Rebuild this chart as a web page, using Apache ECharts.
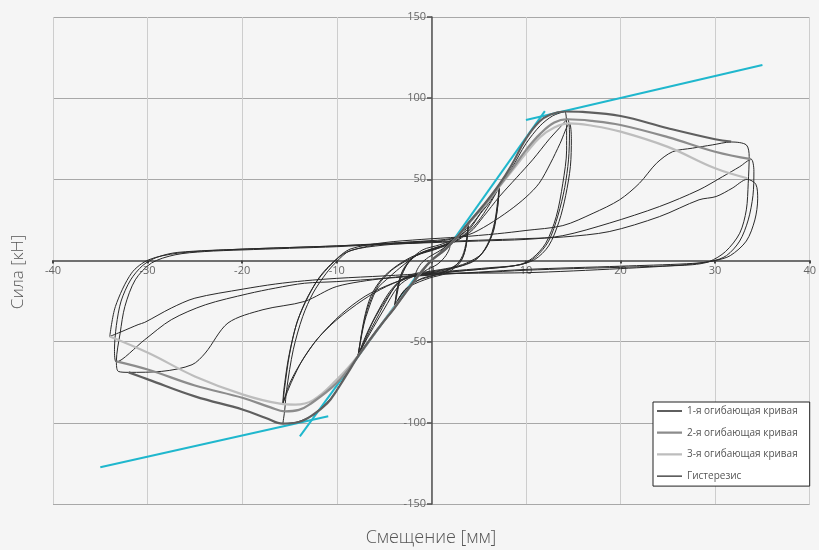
<!DOCTYPE html>
<html>
<head>
<meta charset="utf-8">
<script src="https://cdn.jsdelivr.net/npm/echarts@6/dist/echarts.min.js"></script>
<style>
  html, body { margin: 0; padding: 0; background: #f5f5f5; }
  #chart { width: 819px; height: 550px; }
</style>
</head>
<body>
<div id="chart"></div>
<script>
// Axis ranges (mm / kN)
const xRange = { min: -40, max: 40, step: 10 };
const yRange = { min: -150, max: 150, step: 50 };

const seriesNames = ['1-я огибающая кривая', '2-я огибающая кривая', '3-я огибающая кривая', 'Гистерезис'];

// Envelope curves through the cycle peaks, [displacement mm, force kN]
const envelope1 = [[-32,-68.9],[-29.9,-73.4],[-25,-83.7],[-19.9,-91.9],[-17.5,-97],[-15.7,-100.5],[-14,-99.5],[-12.5,-95],[-11,-88],[-10,-80],[-8.8,-69],[-7.75,-59],[-5.5,-41],[-3.9,-29.3],[-2.5,-18],[-1.2,-8],[0,0],[1.5,7],[2.8,15],[3.9,23],[5.5,34],[7.2,47],[8.5,59],[10,75],[11.4,85.5],[12.6,90],[14.1,91.8],[16,91.5],[20,89],[25,81.5],[30,74.7],[31.7,73.2]];
const envelope2 = [[-33.3,-62.1],[-29.9,-67.3],[-25,-77],[-19.9,-84.7],[-17,-90.5],[-15.5,-92.9],[-14,-92],[-12.9,-88.8],[-10,-75.4],[-7.75,-59],[-5.5,-41],[-3.9,-29],[-2.5,-18],[-1.2,-8],[0,0],[1.5,7],[2.8,15],[3.9,22.8],[5.5,33.5],[7.2,46],[8.5,56],[10,68],[11.5,78],[13,85],[14.4,87],[17,86],[20,83.5],[25,76],[30,67],[33.8,62.4]];
const envelope3 = [[-34,-46.8],[-29.9,-57],[-25,-71.4],[-19.9,-82.6],[-16,-88.2],[-14.4,-88.8],[-12.5,-86],[-10,-73.4],[-7.75,-58.8],[-5.5,-41],[-3.9,-28.8],[-2.5,-18],[-1.2,-8],[0,0],[1.5,7],[2.8,15],[3.9,22.5],[5.5,33],[7.2,45.5],[8.5,55],[10,66],[11.5,76],[13,82],[14.6,84.5],[17,83],[20,79.4],[25,70],[30,56.8],[33.4,50.7]];

// Hysteresis path, grouped by displacement amplitude
const loops2mm = [[0,0],[0.6,3.5],[1.2,7],[2.0,11],[1.9,7],[1.4,2],[0.6,-2.5],[-0.4,-5.5],[-1.2,-8.5],[-1.8,-12.5],[-1.6,-7],[-1.1,-2],[-0.3,2],[0.6,5],[1.4,8],[2.1,11.5]];
const loops4mm = [[2.8,15],[3.4,19],[3.9,23],
  [3.8,15],[3.6,7],[3.0,-1.5],[1.6,-7.8],[-0.2,-10.8],[-2.3,-16],[-3.3,-22],[-3.9,-29.3],
  [-3.6,-20],[-3.3,-12],[-2.8,-5],[-2.2,0.5],[-0.9,6.6],[0.9,9.7],[2.6,13.8],[3.3,18],[3.9,22.5],
  [3.7,12],[3.3,3],[2.5,-3.5],[1.0,-8],[-1,-11],[-2.6,-17],[-3.4,-23],[-3.9,-29],
  [-3.6,-18],[-3.2,-9],[-2.5,-2],[-1.5,3.5],[0,7],[1.5,10],[2.8,15],[3.9,22.8],
  [3.7,10],[3.2,0.5],[2,-5],[0.4,-9],[-1.5,-12.5],[-2.8,-18],[-3.5,-24],[-3.9,-28.8],
  [-3.6,-17],[-3.1,-7],[-2.3,0],[-1,5],[0.5,8],[2,11],[3.2,16],[4.2,24]];
const loops7mm = [[5.4,32],[6.4,39],[7.2,46.5],
  [7.1,38],[6.9,28],[6.5,16.8],[5.4,4.5],[3.7,-1.6],[2,-4.5],[0,-6.5],[-2,-8.5],[-3.4,-13],[-4.5,-22],[-5.8,-36],[-6.8,-47],[-7.75,-59],
  [-7.3,-44],[-6.9,-34.5],[-5.8,-18],[-4.4,-10],[-3,-3],[-1.6,3],[0.5,7],[2.3,12],[3.8,19],[5.2,29],[6.3,37],[7.2,46],
  [7.0,36],[6.7,24],[6.1,12],[5,2],[3.3,-3],[1,-6],[-1.5,-8.5],[-3.2,-12],[-4.5,-20],[-5.8,-33],[-6.9,-46],[-7.75,-58.5],
  [-7.2,-40],[-6.6,-27],[-5.6,-15],[-4.2,-6],[-2.6,0],[-0.8,5],[1.5,9],[3.2,14],[4.8,23],[6.2,35],[7.2,45.5],
  [7.0,33],[6.6,20],[5.9,9],[4.6,0],[2.8,-4],[0.5,-7],[-2,-9.5],[-3.5,-14],[-4.8,-24],[-6.2,-38],[-7.75,-58.8],
  [-7.1,-36],[-6.4,-22],[-5.2,-11],[-3.6,-3],[-1.8,3],[0.5,7.5],[2.5,12],[4,19],[5.5,32],[7,45]];
const loops14mm = [[8.5,57],[10,72],[11.5,83],[12.8,89],[14.1,91.7],
  [14.3,80],[14.3,68],[13.9,47.6],[13.2,27],[12.1,10.7],[10.7,1.5],[9.3,-2.6],[6,-5],[3,-6.5],[0,-8],[-2,-10],[-3.5,-16],[-5,-30],[-6.5,-45],[-7.75,-58],[-9,-70],[-10.5,-84],[-12.5,-95],[-14.2,-99.5],[-15.7,-100.5],
  [-15.5,-92],[-15.3,-79.6],[-14.6,-55],[-13.6,-34.5],[-12.5,-20],[-11.1,-7.8],[-10,-0.6],[-8.6,6],[-5,9.5],[-1,11],[2,13],
  [4,17],[5.5,27],[7.2,39.4],[9,51],[10.7,62],[12.5,75],[13.6,82],[14.4,87],
  [14.6,78],[14.5,62],[14.1,45],[13.4,28],[12.4,12],[11,2],[9.5,-2.5],[6,-4.5],[3,-6],[0,-7.5],[-1.6,-8.8],[-4.75,-16],[-7.2,-24.2],[-10,-36.5],[-12,-48],[-13.6,-61],[-14.8,-75],[-15.7,-88],
  [-15.6,-80],[-15.1,-60],[-14.3,-40],[-13.3,-25],[-12,-12],[-10.5,-2],[-9,5],[-6,9.5],[-2,11.5],[1.5,13],
  [4,16],[6,22],[8.3,31],[10,39],[11.4,47.6],[12.6,60],[13.6,72],[14.6,84.5],
  [14.8,75],[14.7,58],[14.2,40],[13.5,24],[12.4,9],[10.9,0.5],[9,-3],[6,-5],[3,-6.5],[0,-8.5],[-2,-10],[-4.5,-15],[-7,-22],[-9.5,-33],[-12,-48],[-13.8,-63],[-15,-76],[-15.7,-88.5],
  [-15.5,-78],[-15,-58],[-14.2,-38],[-13,-22],[-11.8,-10],[-10.3,-0.5],[-8.6,7],[-5,11],[-1,13],[3,14.5],[7,16.5],[10,18.5]];
const loops33mm = [[13.9,21.5],[17.1,29.1],[19.9,37.4],[22,47.6],[23.8,59.9],[25.5,67],[27.6,69.2],[29.7,71.2],[31.7,73],[33.3,71.2],
  [33.6,64],[33.5,47.6],[33.3,31.2],[32.6,16.8],[31.1,5.5],[29.4,-0.6],[27.6,-2.6],[24,-3.5],[20,-4.2],[15,-5],[10,-6],[5,-7.5],[0,-8.5],[-5,-11],[-10,-16],[-13.4,-25.2],[-17.8,-30.3],[-21.5,-38.5],[-23.9,-57],[-25.3,-64.2],[-28.5,-68.3],[-32,-68.9],[-33.1,-68.3],
  [-33.3,-62],[-32.9,-44.7],[-32.4,-28.3],[-31.3,-11.9],[-29.6,-1.6],[-27.1,3.5],[-24,5.5],[-20,6.5],[-15,7.5],[-10,8.5],[-5,10],[0,11],[5,12],[10,13],[13.9,15.3],
  [18.8,23],[24.1,33.2],[28.3,43.5],[30.8,51.7],[32.6,57.8],[33.8,62.4],
  [34.1,55],[34,40],[33.5,25],[32.6,12],[31.2,3],[29.6,-0.5],[27,-2],[20,-3.5],[10,-5.5],[0,-9],[-5,-11],[-10,-13],[-13.4,-14],[-16.5,-17],[-19.4,-20.5],[-23.9,-27.3],[-27.5,-36.5],[-30.3,-48.8],[-33.3,-62.5],
  [-33.5,-55],[-33.3,-40],[-32.8,-25],[-31.8,-12],[-30.5,-3],[-29,2],[-26.8,5],[-20,7],[-10,9],[0,11.5],[5,12.5],[10,13.5],[14,14.5],
  [18.8,17.8],[24.1,27],[28.3,37.4],[30.1,39.4],[31.8,44.5],[33.4,50],
  [34.3,47],[34.5,38],[34.2,25],[33.3,12],[31.6,3],[30,0],[27,-2.5],[20,-5],[10,-7.5],[0,-8],[-5,-9.5],[-10,-11],[-13.4,-12.5],[-16.5,-14.5],[-19.9,-17.6],[-25,-23.2],[-27.5,-29.3],[-30.3,-38.1],[-31,-39.5],[-32.7,-43.7],[-34,-46.8],
  [-33.4,-28.3],[-31.7,-7.8],[-29.9,0.4],[-26.8,4.5],[-22,6.5],[-15,8],[-10,9],[-5,10.5],[0,12]];

// Bilinear idealisation lines: initial stiffness and post-yield branch
const stiffnessPos = [[2.1,10.7],[12,92]];
const stiffnessNeg = [[-13.9,-108.3],[-1.5,-9]];
const hardeningPos = [[10,86.6],[35,120.4]];
const hardeningNeg = [[-35,-127.4],[-10.9,-96]];

const hysteresis = loops2mm.concat(loops4mm, loops7mm, loops14mm, loops33mm);

const FONT = "'Open Sans', 'Noto Sans', sans-serif";
const CYAN = '#1fb7cd';

// Plot box in pixels; the axes cross at (0, 0) inside it
const PLOT = { left: 53, right: 8, top: 17, bottom: 46, width: 819 - 53 - 8, height: 550 - 17 - 46 };
const xAxisShift = PLOT.height * (0 - yRange.min) / (yRange.max - yRange.min);
const yAxisShift = PLOT.width * (0 - xRange.min) / (xRange.max - xRange.min);

// Legend glyph: a horizontal bar of given thickness inside a 25x10 box
function barIcon(t) {
  const a = (5 - t / 2).toFixed(2), b = (5 + t / 2).toFixed(2);
  return 'path://M0,0L0.01,0L0.01,0.01Z M0,' + a + 'L25,' + a + 'L25,' + b + 'L0,' + b + 'Z M24.99,10L25,10L25,9.99Z';
}

function straight(name, data) {
  return { name, type: 'line', data, symbol: 'none', silent: true, z: 2,
           lineStyle: { color: CYAN, width: 2 }, itemStyle: { color: CYAN } };
}
function curve(name, data, color, width, smooth, z) {
  return { name, type: 'line', data, symbol: 'none', showSymbol: false, smooth, z,
           lineStyle: { color, width }, itemStyle: { color } };
}

const chart = echarts.init(document.getElementById('chart'), null, { renderer: 'canvas' });
chart.setOption({
  backgroundColor: '#f5f5f5',
  animation: false,
  grid: { left: PLOT.left, right: PLOT.right, top: PLOT.top, bottom: PLOT.bottom, containLabel: false },
  xAxis: {
    type: 'value', min: xRange.min, max: xRange.max, interval: xRange.step,
    position: 'bottom', offset: -xAxisShift,
    axisLine: { onZero: false, lineStyle: { color: '#707070', width: 2 } },
    axisTick: { show: true, length: 3, lineStyle: { color: '#444', width: 2 } },
    axisLabel: { color: '#666', fontSize: 11, fontFamily: FONT, margin: 5 },
    splitLine: { show: true, lineStyle: { color: '#cdcdcd', width: 1 } }
  },
  yAxis: {
    type: 'value', min: yRange.min, max: yRange.max, interval: yRange.step,
    position: 'left', offset: -yAxisShift,
    axisLine: { show: true, onZero: false, lineStyle: { color: '#505050', width: 1.5 } },
    axisTick: { show: true, length: 5, lineStyle: { color: '#505050', width: 1.5 } },
    axisLabel: { color: '#666', fontSize: 11, fontFamily: FONT, margin: 6,
                 formatter: v => (v === 0 ? '' : String(v)) },
    splitLine: { show: true, lineStyle: { color: '#a8a8a8', width: 1 } }
  },
  legend: {
    data: [
      { name: seriesNames[0], icon: barIcon(2.2) },
      { name: seriesNames[1], icon: barIcon(2.2) },
      { name: seriesNames[2], icon: barIcon(2.2) },
      { name: seriesNames[3], icon: barIcon(1.3) }
    ],
    orient: 'vertical', left: 653, top: 402,
    backgroundColor: '#ffffff', borderColor: '#222', borderWidth: 1, borderRadius: 0,
    padding: [4, 12, 5, 4], itemWidth: 25, itemHeight: 10, itemGap: 11.7,
    textStyle: { fontSize: 10, color: '#555', fontFamily: FONT }
  },
  graphic: [
    { type: 'text', x: 18, y: 272, rotation: Math.PI / 2,
      style: { text: 'Сила [кН]', font: "300 17px 'Open Sans', sans-serif", fill: '#555',
               textAlign: 'center', textVerticalAlign: 'middle' } },
    { type: 'text', x: 431, y: 538,
      style: { text: 'Смещение [мм]', font: "300 18px 'Open Sans', sans-serif", fill: '#555',
               textAlign: 'center', textVerticalAlign: 'middle' } }
  ],
  series: [
    straight('k+', stiffnessPos),
    straight('k-', stiffnessNeg),
    straight('h+', hardeningPos),
    straight('h-', hardeningNeg),
    curve(seriesNames[3], hysteresis, '#2a2a2a', 1, 0.3, 3),
    curve(seriesNames[2], envelope3, '#bdbdbd', 2.2, 0.4, 4),
    curve(seriesNames[1], envelope2, '#8c8c8c', 2.2, 0.4, 4),
    curve(seriesNames[0], envelope1, '#5f5f5f', 2.2, 0.4, 4)
  ]
});
</script>
</body>
</html>
